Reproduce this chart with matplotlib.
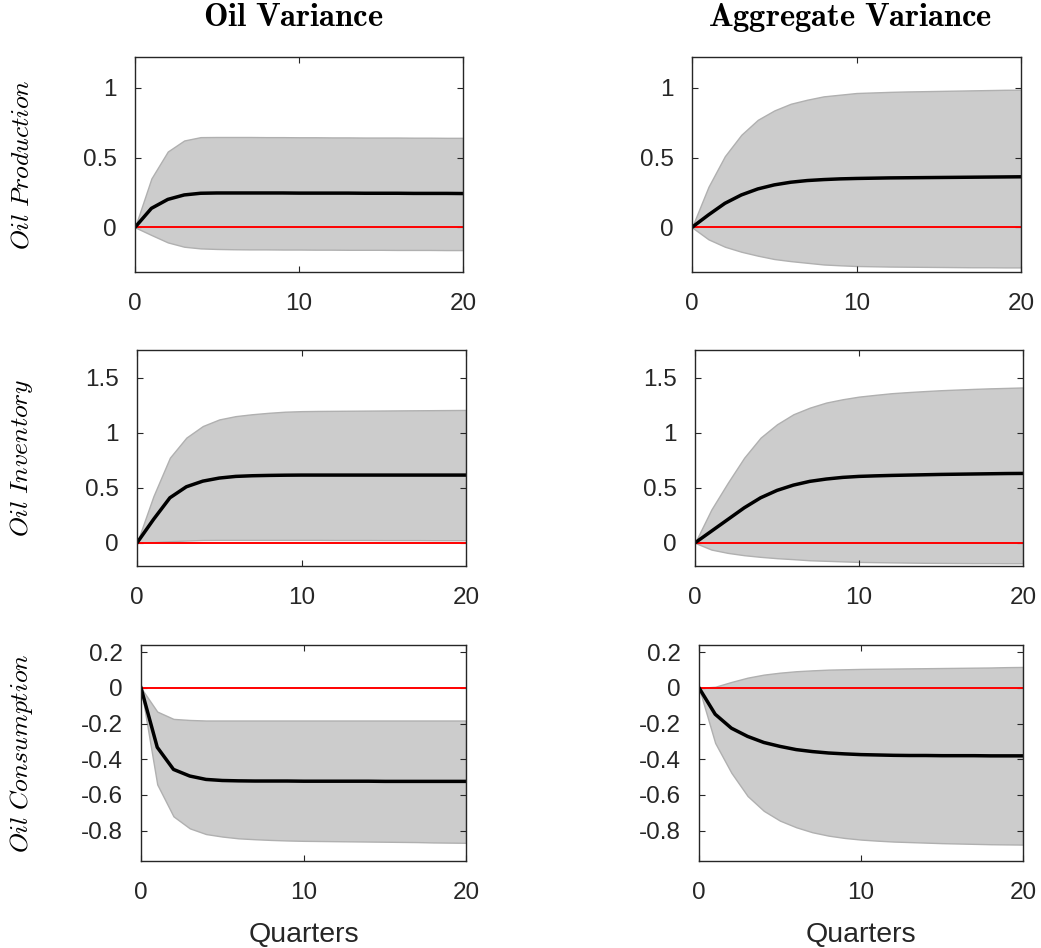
import numpy as np
import matplotlib
matplotlib.use('Agg')
import matplotlib.pyplot as plt

plt.rcParams['font.family'] = ['Liberation Sans', 'DejaVu Sans']
plt.rcParams['mathtext.fontset'] = 'cm'

# Data: impulse responses (median and bands), quarters 0..20
quarters = list(range(21))

col_titles = ['Oil Variance', 'Aggregate Variance']
row_labels = ['Oil Production', 'Oil Inventory', 'Oil Consumption']

# Oil Production
prod_oil_med = [0, 0.136, 0.20, 0.232, 0.244, 0.246, 0.246, 0.246, 0.246, 0.246, 0.245,
                0.245, 0.245, 0.245, 0.244, 0.244, 0.244, 0.243, 0.243, 0.243, 0.242]
prod_oil_up = [0, 0.35, 0.543, 0.622, 0.646, 0.647, 0.647, 0.647, 0.646, 0.646, 0.645,
               0.645, 0.644, 0.644, 0.643, 0.643, 0.643, 0.642, 0.642, 0.641, 0.641]
prod_oil_lo = [0, -0.055, -0.108, -0.139, -0.151, -0.155, -0.157, -0.158, -0.158, -0.159, -0.159,
               -0.160, -0.160, -0.161, -0.161, -0.161, -0.162, -0.162, -0.162, -0.163, -0.163]
prod_agg_med = [0, 0.089, 0.172, 0.232, 0.275, 0.304, 0.323, 0.335, 0.342, 0.347, 0.350,
                0.352, 0.354, 0.355, 0.356, 0.357, 0.358, 0.359, 0.360, 0.361, 0.362]
prod_agg_up = [0, 0.29, 0.51, 0.663, 0.77, 0.837, 0.885, 0.914, 0.938, 0.95, 0.962,
               0.966, 0.970, 0.973, 0.975, 0.977, 0.979, 0.981, 0.983, 0.985, 0.986]
prod_agg_lo = [0, -0.086, -0.139, -0.175, -0.203, -0.227, -0.242, -0.254, -0.266, -0.272, -0.277,
               -0.279, -0.281, -0.282, -0.283, -0.284, -0.285, -0.286, -0.286, -0.287, -0.287]

# Oil Inventory
inv_oil_med = [0, 0.212, 0.409, 0.509, 0.56, 0.588, 0.603, 0.609, 0.612, 0.614, 0.615,
               0.615, 0.615, 0.615, 0.615, 0.615, 0.615, 0.615, 0.615, 0.615, 0.615]
inv_oil_up = [0, 0.424, 0.773, 0.955, 1.06, 1.12, 1.15, 1.167, 1.18, 1.19, 1.195,
              1.197, 1.198, 1.199, 1.200, 1.201, 1.202, 1.203, 1.204, 1.205, 1.206]
inv_oil_lo = [0, 0.006, 0.015, 0.021, 0.026, 0.027, 0.027, 0.027, 0.027, 0.027, 0.027,
              0.027, 0.026, 0.026, 0.026, 0.025, 0.025, 0.025, 0.024, 0.024, 0.024]
inv_agg_med = [0, 0.106, 0.212, 0.318, 0.409, 0.476, 0.524, 0.558, 0.579, 0.594, 0.603,
               0.608, 0.612, 0.615, 0.618, 0.621, 0.623, 0.625, 0.627, 0.629, 0.63]
inv_agg_up = [0, 0.303, 0.545, 0.773, 0.955, 1.076, 1.167, 1.227, 1.273, 1.303, 1.327,
              1.343, 1.358, 1.368, 1.377, 1.385, 1.391, 1.397, 1.402, 1.406, 1.41]
inv_agg_lo = [0, -0.061, -0.091, -0.112, -0.127, -0.139, -0.148, -0.158, -0.163, -0.168, -0.173,
              -0.175, -0.177, -0.179, -0.181, -0.182, -0.183, -0.184, -0.184, -0.185, -0.185]

# Oil Consumption
cons_oil_med = [0, -0.333, -0.457, -0.494, -0.513, -0.519, -0.521, -0.522, -0.522, -0.522, -0.523,
                -0.523, -0.523, -0.523, -0.523, -0.524, -0.524, -0.524, -0.524, -0.524, -0.524]
cons_oil_up = [0, -0.133, -0.174, -0.18, -0.183, -0.183, -0.183, -0.183, -0.183, -0.183, -0.183,
               -0.183, -0.183, -0.183, -0.183, -0.183, -0.183, -0.183, -0.183, -0.183, -0.183]
cons_oil_lo = [0, -0.541, -0.72, -0.787, -0.819, -0.833, -0.843, -0.848, -0.852, -0.855, -0.857,
               -0.858, -0.859, -0.860, -0.861, -0.862, -0.863, -0.864, -0.866, -0.867, -0.868]
cons_agg_med = [0, -0.148, -0.226, -0.272, -0.306, -0.328, -0.346, -0.357, -0.365, -0.37, -0.374,
                -0.376, -0.378, -0.379, -0.379, -0.38, -0.38, -0.38, -0.381, -0.381, -0.381]
cons_agg_up = [0, 0.006, 0.033, 0.057, 0.074, 0.085, 0.093, 0.098, 0.102, 0.104, 0.106,
               0.107, 0.108, 0.109, 0.110, 0.111, 0.112, 0.113, 0.114, 0.116, 0.117]
cons_agg_lo = [0, -0.309, -0.476, -0.606, -0.689, -0.744, -0.781, -0.809, -0.828, -0.841, -0.85,
               -0.856, -0.861, -0.864, -0.867, -0.87, -0.872, -0.874, -0.876, -0.877, -0.878]

panels = [
    [(prod_oil_med, prod_oil_lo, prod_oil_up), (prod_agg_med, prod_agg_lo, prod_agg_up)],
    [(inv_oil_med, inv_oil_lo, inv_oil_up), (inv_agg_med, inv_agg_lo, inv_agg_up)],
    [(cons_oil_med, cons_oil_lo, cons_oil_up), (cons_agg_med, cons_agg_lo, cons_agg_up)],
]

xticks = [0, 10, 20]
yticks = [[0, 0.5, 1], [0, 0.5, 1, 1.5], [-0.8, -0.6, -0.4, -0.2, 0, 0.2]]
yticklabels = [['0', '0.5', '1'], ['0', '0.5', '1', '1.5'],
               ['-0.8', '-0.6', '-0.4', '-0.2', '0', '0.2']]
ylims = [(-0.32, 1.22), (-0.21, 1.75), (-0.97, 0.24)]

W, H = 1041, 948
# axes boxes in pixels: (x0, y0_top, x1, y1_bottom)
boxes = [
    [(135, 57, 463, 272), (692, 57, 1021, 272)],
    [(137, 350, 466, 566), (695, 350, 1023, 566)],
    [(141, 645, 466, 861), (699, 645, 1023, 861)],
]

fig = plt.figure(figsize=(W / 100, H / 100), dpi=100)
dark = '#262626'

for r in range(3):
    for c in range(2):
        x0, y0, x1, y1 = boxes[r][c]
        ax = fig.add_axes([x0 / W, 1 - y1 / H, (x1 - x0) / W, (y1 - y0) / H])
        med, lo, up = panels[r][c]
        ax.fill_between(quarters, lo, up, facecolor='#cccccc', edgecolor='#b0b0b0', linewidth=1)
        ax.axhline(0, color='#ff0000', linewidth=1.4)
        ax.plot(quarters, med, color='black', linewidth=2.5)
        ax.set_xlim(0, 20)
        ax.set_ylim(*ylims[r])
        ax.set_xticks(xticks)
        ax.set_xticklabels([str(t) for t in xticks])
        ax.set_yticks(yticks[r])
        ax.set_yticklabels(yticklabels[r])
        ax.tick_params(direction='in', top=True, right=True, length=4, width=0.8,
                       labelsize=17.5, colors=dark)
        ax.tick_params(axis='y', pad=13)
        ax.tick_params(axis='x', pad=15)
        for s in ax.spines.values():
            s.set_color(dark)
            s.set_linewidth(1.0)
        if r == 2:
            ax.set_xlabel('Quarters', fontsize=20.5, color=dark, labelpad=13)
        if c == 0:
            yc = 1 - (y0 + y1) / 2 / H
            fig.text(22 / W, yc, '$' + row_labels[r].replace(' ', r'\ ') + '$',
                     rotation=90, ha='center', va='center', fontsize=18.5)
        if r == 0:
            fig.text((x0 + x1) / 2 / W - 6 / W, 1 - 18 / H,
                     r'$\mathbf{' + col_titles[c].replace(' ', r'\ ') + '}$',
                     ha='center', va='center', fontsize=23.5)

fig.savefig('out.png', dpi=100)
